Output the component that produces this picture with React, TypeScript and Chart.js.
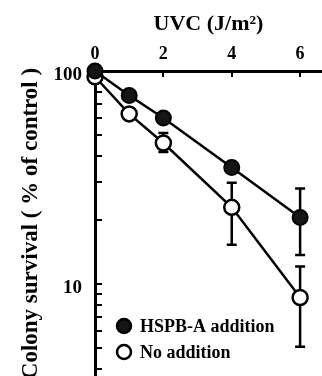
import React, { useEffect, useRef } from 'react';
import { Chart, registerables } from 'chart.js';

Chart.register(...registerables);

// ---- data ----
const doses = [0, 1, 2, 4, 6];
const hspbValues = [100, 76.7, 60.2, 35.2, 20.5];
const hspbErrHigh: (number | null)[] = [null, null, null, null, 28.1];
const hspbErrLow: (number | null)[] = [null, null, null, null, 13.7];
const noAddValues = [94, 62.9, 45.9, 22.9, 8.64];
const noAddErrHigh: (number | null)[] = [null, null, 51.2, 29.9, 12.1];
const noAddErrLow: (number | null)[] = [null, null, 41.7, 15.3, 5.08];
const xTickValues = [0, 2, 4, 6];
const yTickValues = [4, 5, 6, 7, 8, 9, 10, 20, 30, 40, 50, 60, 70, 80, 90, 100];
const yLabeledTicks = [10, 100];
const seriesLabels = ['HSPB-A addition', 'No addition'];
const xTitle = 'UVC (J/m²)';
const yTitle = 'Colony survival ( % of control )';

const FONT = 'Liberation Serif, Times New Roman, serif';

const errorBarPlugin = {
  id: 'errorBars',
  beforeDatasetsDraw(chart: any) {
    const xs = chart.scales.x;
    const ys = chart.scales.y;
    const ctx = chart.ctx;
    const sets: [(number | null)[], (number | null)[]][] = [
      [hspbErrLow, hspbErrHigh],
      [noAddErrLow, noAddErrHigh],
    ];
    ctx.save();
    ctx.strokeStyle = '#000';
    ctx.lineWidth = 2.5;
    sets.forEach(([lo, hi]) => {
      doses.forEach((d, i) => {
        const l = lo[i];
        const h = hi[i];
        if (l == null || h == null) return;
        const x = xs.getPixelForValue(d);
        const y1 = ys.getPixelForValue(h);
        const y2 = ys.getPixelForValue(l);
        ctx.beginPath();
        ctx.moveTo(x, y1);
        ctx.lineTo(x, y2);
        ctx.moveTo(x - 5, y1);
        ctx.lineTo(x + 5, y1);
        ctx.moveTo(x - 5, y2);
        ctx.lineTo(x + 5, y2);
        ctx.stroke();
      });
    });
    ctx.restore();
  },
};

const inlineLegendPlugin = {
  id: 'inlineLegend',
  afterDraw(chart: any) {
    const ctx = chart.ctx;
    const area = chart.chartArea;
    const markerX = area.left + 29;
    const textX = area.left + 45;
    const rowsY = [area.bottom - 50, area.bottom - 24];
    ctx.save();
    chart.data.datasets.forEach((ds: any, i: number) => {
      const y = rowsY[i];
      ctx.beginPath();
      ctx.arc(markerX, y, 7, 0, Math.PI * 2);
      ctx.fillStyle = ds.pointBackgroundColor;
      ctx.fill();
      ctx.lineWidth = 2.5;
      ctx.strokeStyle = '#000';
      ctx.stroke();
      ctx.fillStyle = '#000';
      ctx.font = `bold 18px ${FONT}`;
      ctx.textBaseline = 'middle';
      ctx.textAlign = 'left';
      ctx.fillText(ds.label, textX, y + 1);
    });
    ctx.restore();
  },
};

const zeroPadding = (s: any) => {
  s.paddingTop = 0;
  s.paddingBottom = 0;
  s.paddingLeft = 0;
  s.paddingRight = 0;
};

export default function App() {
  const canvasRef = useRef<HTMLCanvasElement | null>(null);

  useEffect(() => {
    document.body.style.margin = '0';
    const canvas = canvasRef.current;
    if (!canvas) return;
    const chart = new Chart(canvas, {
      type: 'line',
      data: {
        datasets: [
          {
            label: seriesLabels[0],
            data: doses.map((d, i) => ({ x: d, y: hspbValues[i] })),
            borderColor: '#000',
            borderWidth: 2.5,
            pointRadius: 7.5,
            pointBorderWidth: 2,
            pointBackgroundColor: '#151515',
            pointBorderColor: '#000',
            clip: false,
            tension: 0,
          },
          {
            label: seriesLabels[1],
            data: doses.map((d, i) => ({ x: d, y: noAddValues[i] })),
            borderColor: '#000',
            borderWidth: 2.5,
            pointRadius: 7.5,
            pointBorderWidth: 2.5,
            pointBackgroundColor: '#fff',
            pointBorderColor: '#000',
            clip: false,
            tension: 0,
          },
        ],
      },
      options: {
        responsive: false,
        animation: false,
        devicePixelRatio: 1,
        layout: { padding: 0, autoPadding: false },
        plugins: {
          legend: { display: false },
          tooltip: { enabled: false },
        },
        scales: {
          x: {
            type: 'linear',
            position: 'top',
            min: 0,
            max: 6.64,
            afterFit: (s: any) => {
              s.height = 71;
              zeroPadding(s);
            },
            afterBuildTicks: (s: any) => {
              s.ticks = xTickValues.map((v) => ({ value: v }));
            },
            ticks: {
              color: '#000',
              padding: 12,
              autoSkip: false,
              maxRotation: 0,
              font: { family: FONT, weight: 'bold', size: 18 },
              callback: (v: any) => String(v),
            },
            grid: {
              drawOnChartArea: false,
              drawTicks: true,
              tickLength: -6,
              color: '#000',
              lineWidth: 2,
            },
            border: { color: '#000', width: 3 },
            title: {
              display: true,
              text: xTitle,
              color: '#000',
              font: { family: FONT, weight: 'bold', size: 22 },
              padding: { top: 11, bottom: 0 },
            },
          },
          y: {
            type: 'logarithmic',
            position: 'left',
            min: 3.7,
            max: 100,
            afterFit: (s: any) => {
              s.width = 95;
              zeroPadding(s);
            },
            afterBuildTicks: (s: any) => {
              s.ticks = yTickValues.map((v) => ({ value: v }));
            },
            ticks: {
              color: '#000',
              padding: 20,
              labelOffset: 4,
              autoSkip: false,
              font: { family: FONT, weight: 'bold', size: 19 },
              callback: (v: any) => (yLabeledTicks.includes(Number(v)) ? String(v) : ''),
            },
            grid: {
              drawOnChartArea: false,
              drawTicks: true,
              tickLength: -7,
              color: '#000',
              lineWidth: 2,
            },
            border: { color: '#000', width: 3 },
            title: {
              display: true,
              text: yTitle,
              color: '#000',
              font: { family: FONT, weight: 'bold', size: 23 },
              padding: { top: 17, bottom: 0 },
            },
          },
        },
      },
      plugins: [errorBarPlugin, inlineLegendPlugin],
    } as any);
    return () => chart.destroy();
  }, []);

  return (
    <div style={{ position: 'fixed', left: 0, top: 0, width: 322, height: 376, background: '#fff' }}>
      <canvas ref={canvasRef} width={322} height={376} style={{ display: 'block' }} />
    </div>
  );
}
